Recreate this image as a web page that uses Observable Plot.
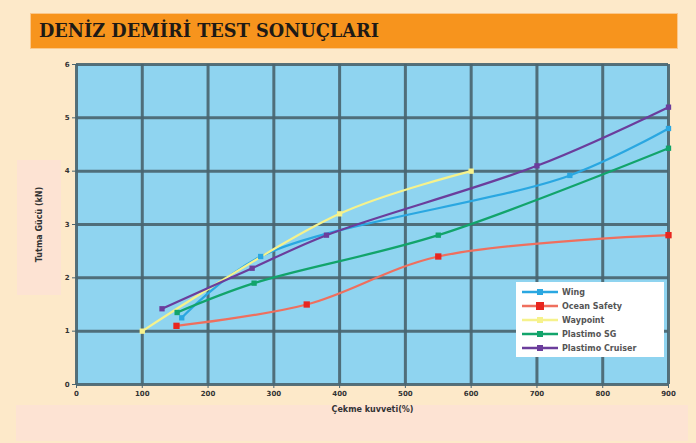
<!DOCTYPE html>
<html><head><meta charset="utf-8">
<script src="https://cdn.jsdelivr.net/npm/d3@7"></script>
<script src="https://cdn.jsdelivr.net/npm/@observablehq/plot@0.6"></script>
<style>
body{margin:0;background:#fde9c9;font-family:"DejaVu Sans",sans-serif;}
#wrap{position:relative;width:696px;height:443px;overflow:hidden;background:#fde9c9;}
#titlebar{position:absolute;left:30px;top:13px;width:648px;height:36px;background:#f7941d;border:1px solid #fbc78a;box-sizing:border-box;}
#titlebar span{position:absolute;left:8px;top:6px;font-family:"DejaVu Serif",serif;font-weight:bold;font-size:18px;color:#1e1a16;white-space:nowrap;transform-origin:left;}
#pinkx{position:absolute;left:16px;top:405px;width:672px;height:36px;background:#fde3d3;}
#pinky{position:absolute;left:17px;top:160px;width:44px;height:135px;background:#fde3d3;}
#chart{position:absolute;left:0;top:50px;}
#legend{position:absolute;left:516px;top:282px;width:148px;height:75px;background:#fff;box-sizing:border-box;padding:3px 0 0 6px;}
.li{display:flex;align-items:center;height:14px;font-size:8px;font-weight:bold;color:#555;}
.li svg{margin-right:4px;}
</style></head>
<body>
<div id="wrap">
  <div id="pinkx"></div>
  <div id="pinky"></div>
  <div id="titlebar"><span id="ttl">DENİZ DEMİRİ TEST SONUÇLARI</span></div>
  <div id="chart"></div>
  <div id="legend"></div>
</div>
<script>
const seriesNames = ["Wing", "Ocean Safety", "Waypoint", "Plastimo SG", "Plastimo Cruiser"];
const seriesColors = ["#2aa7e1", "#ef6f5e", "#f6f28c", "#12a46b", "#6b3d9c"];
const markerColors = ["#2aa7e1", "#e8261f", "#f6f28c", "#12a46b", "#6b3d9c"];
const wingX = [160, 280, 750, 900];
const wingY = [1.25, 2.4, 3.92, 4.8];
const oceanX = [152, 350, 550, 900];
const oceanY = [1.1, 1.5, 2.4, 2.8];
const wayX = [100, 400, 600];
const wayY = [1.0, 3.2, 4.0];
const sgX = [153, 270, 550, 900];
const sgY = [1.35, 1.9, 2.8, 4.43];
const cruiserX = [130, 267, 380, 700, 900];
const cruiserY = [1.42, 2.18, 2.8, 4.1, 5.2];
const xTicks = [0, 100, 200, 300, 400, 500, 600, 700, 800, 900];
const yTicks = [0, 1, 2, 3, 4, 5, 6];
const xTitle = "Çekme kuvveti(%)";
const yTitle = "Tutma Gücü (kN)";

// fit title width
const ttl = document.getElementById("ttl");
const tw = ttl.getBoundingClientRect().width;
ttl.style.transform = `scaleX(${340 / tw})`;

const xsAll = [wingX, oceanX, wayX, sgX, cruiserX];
const ysAll = [wingY, oceanY, wayY, sgY, cruiserY];
const data = [];
xsAll.forEach((xs, i) => xs.forEach((x, j) => data.push({series: seriesNames[i], x, y: ysAll[i][j]})));

const grid = "#4a6570";
const chart = Plot.plot({
  width: 696, height: 393,
  marginLeft: 76, marginRight: 28, marginTop: 14, marginBottom: 59,
  style: {background: "transparent", fontFamily: "DejaVu Sans, sans-serif", fontSize: "7px", color: "#333"},
  x: {domain: [0, 900], axis: null},
  y: {domain: [0, 6], axis: null},
  color: {domain: seriesNames, range: seriesColors},
  marks: [
    Plot.frame({fill: "#8fd4f0", stroke: null}),
    Plot.gridX(xTicks, {stroke: grid, strokeWidth: 3, strokeOpacity: 0.92}),
    Plot.gridY(yTicks, {stroke: grid, strokeWidth: 3, strokeOpacity: 0.92}),
    Plot.axisX({ticks: xTicks, tickSize: 4, tickPadding: 3, stroke: grid, fontWeight: "bold", tickFormat: "d",
      label: xTitle, labelAnchor: "center", labelOffset: 27, labelArrow: "none"}),
    Plot.axisY({ticks: yTicks, tickSize: 4, tickPadding: 3, stroke: grid, fontWeight: "bold", tickFormat: "d",
      label: yTitle, labelAnchor: "center", labelOffset: 40, labelArrow: "none"}),
    Plot.line(data, {x: "x", y: "y", z: "series", stroke: "series", strokeWidth: 2.2, curve: "catmull-rom"}),
    Plot.dot(data, {x: "x", y: "y", symbol: "square", r: d => d.series === "Ocean Safety" ? 4.5 : 3.2,
      fill: d => markerColors[seriesNames.indexOf(d.series)], stroke: null})
  ]
});
chart.querySelectorAll("[aria-label='x-axis label'] text, [aria-label='y-axis label'] text").forEach(t => {
  t.style.fontSize = "8px"; t.style.fontWeight = "bold";
});
document.getElementById("chart").appendChild(chart);

const leg = document.getElementById("legend");
seriesNames.forEach((n, i) => {
  const row = document.createElement("div");
  row.className = "li";
  row.innerHTML = `<svg width="36" height="10"><line x1="0" y1="5" x2="36" y2="5" stroke="${seriesColors[i]}" stroke-width="2.5"/><rect x="${18 - (i===1?4:3)}" y="${5 - (i===1?4:3)}" width="${i===1?8:6}" height="${i===1?8:6}" fill="${markerColors[i]}"/></svg>${n}`;
  leg.appendChild(row);
});
</script>
</body></html>
